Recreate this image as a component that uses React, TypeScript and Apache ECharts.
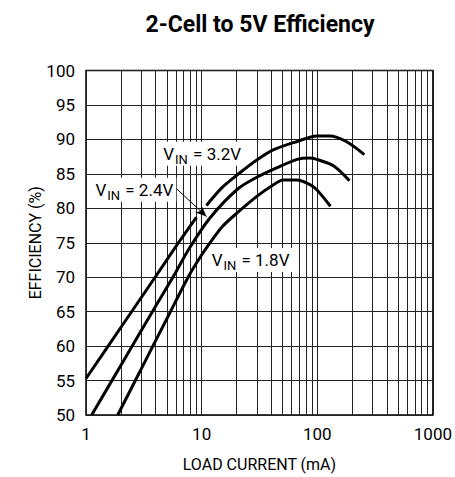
import React, { useEffect, useRef } from 'react';
import * as echarts from 'echarts';

const titleText = '2-Cell to 5V Efficiency';
const xAxisName = 'LOAD CURRENT (mA)';
const yAxisName = 'EFFICIENCY (%)';
const xMinorGrid = [2, 3, 4, 5, 6, 7, 8, 9, 20, 30, 40, 50, 60, 70, 80, 90, 200, 300, 400, 500, 600, 700, 800, 900];

// V_IN = 3.2V (broken where the arrow crosses)
const vin32: (number[] | null)[] = [
  [1, 55.3], [2, 62.7], [4, 70.1], [6.3, 75.0], [9.0, 78.7],
  null,
  [11.0, 80.4], [15, 83.0], [20.5, 84.9], [30, 87.0], [42, 88.5], [67, 89.7], [99, 90.5], [128, 90.5], [178, 89.7], [255, 87.8],
];
// V_IN = 2.4V
const vin24 = [
  [1.12, 50], [2, 57.2], [4, 65.8], [5.74, 70.2], [7.9, 74.3], [11.8, 78.6], [20.5, 82.8], [30, 84.5], [45, 85.9], [67, 87.1], [85, 87.3], [99, 87.1], [137, 86.2], [190, 84.0],
];
// V_IN = 1.8V
const vin18 = [
  [1.88, 50], [2.67, 55.0], [3.58, 59.2], [4.98, 63.9], [7.7, 70.1], [9.8, 73.0], [12.2, 75.3], [15, 77.3], [20.5, 79.4], [30.4, 81.8], [40, 83.2], [51, 84.1], [66.7, 84.1], [85, 83.5], [99, 82.7], [130, 80.3],
];

const labelTexts = ['3.2V', '2.4V', '1.8V'];
const labelCoords = [[10.1, 87.9], [2.62, 82.7], [26.5, 72.5]];
const arrowFrom = [5.93, 83.0];
const arrowTo = [11.03, 78.8];

const FONT = "Roboto, 'Liberation Sans', sans-serif";

export default function App() {
  const ref = useRef<HTMLDivElement>(null);
  useEffect(() => {
    document.body.style.margin = '0';
    const chart = echarts.init(ref.current!, null, { renderer: 'svg' });
    const curve = (data: any) => ({
      type: 'line',
      data,
      symbol: 'none',
      smooth: 0.3,
      connectNulls: false,
      z: 3,
      lineStyle: { color: '#000', width: 3 },
      silent: true,
    });
    chart.setOption({
      animation: false,
      backgroundColor: '#fff',
      textStyle: { fontFamily: FONT },
      title: {
        text: titleText,
        left: 255,
        top: 8,
        textAlign: 'center',
        textStyle: { fontFamily: FONT, fontWeight: 'bold', fontSize: 23, color: '#000' },
      },
      grid: {
        left: 86, right: 17, top: 70.5, bottom: 56,
        show: true, borderColor: '#000', borderWidth: 1.5, backgroundColor: 'transparent',
      },
      xAxis: {
        type: 'log', logBase: 10, min: 1, max: 1000,
        name: xAxisName, nameLocation: 'middle', nameGap: 41, nameMoveOverlap: false,
        nameTextStyle: { fontFamily: FONT, fontSize: 16, color: '#000', verticalAlign: 'top' },
        axisLine: { show: false },
        axisTick: { show: false },
        axisLabel: {
          fontFamily: FONT, fontSize: 17, color: '#000', margin: 10,
          formatter: (v: number) => String(Math.round(v)),
        },
        splitLine: { show: true, lineStyle: { color: '#222', width: 1 } },
        minorTick: { show: false },
      },
      yAxis: {
        type: 'value', min: 50, max: 100, interval: 5,
        name: yAxisName, nameLocation: 'middle', nameGap: 43, nameMoveOverlap: false,
        nameTextStyle: { fontFamily: FONT, fontSize: 16, color: '#000', verticalAlign: 'bottom' },
        axisLine: { show: false },
        axisTick: { show: false },
        axisLabel: { fontFamily: FONT, fontSize: 17, color: '#000', margin: 11 },
        splitLine: { show: true, lineStyle: { color: '#222', width: 1 } },
      },
      series: [
        {
          type: 'line',
          data: [[1, 50]],
          symbol: 'none',
          lineStyle: { width: 0 },
          silent: true,
          z: 1,
          markLine: {
            silent: true,
            z: 1,
            symbol: ['none', 'none'],
            label: { show: false },
            lineStyle: { color: '#222', width: 1, type: 'solid' },
            data: xMinorGrid.map((v) => ({ xAxis: v })),
          },
        },
        {
          ...curve(vin32),
          markLine: {
            silent: true,
            z: 6,
            symbol: ['none', 'arrow'],
            symbolSize: [7, 11],
            label: { show: false },
            lineStyle: { color: '#000', width: 1, type: 'solid' },
            data: [[{ coord: arrowFrom }, { coord: arrowTo }]],
          },
          markPoint: {
            silent: true,
            z: 10,
            symbol: 'rect',
            symbolSize: 1,
            itemStyle: { color: 'rgba(0,0,0,0)' },
            label: {
              show: true,
              position: 'inside',
              backgroundColor: '#fff',
              padding: [1, 3, 0, 3],
              color: '#000',
              rich: {
                v: { fontFamily: FONT, fontSize: 17, color: '#000' },
                s: { fontFamily: FONT, fontSize: 13, color: '#000', padding: [10, 1, 0, 1] },
              },
            },
            data: labelTexts.map((t, i) => ({
              coord: labelCoords[i],
              label: { formatter: `{v|V}{s|IN}{v| = ${t}}` },
            })),
          },
        },
        curve(vin24),
        curve(vin18),
      ],
    });
    return () => chart.dispose();
  }, []);
  return <div ref={ref} style={{ width: 455, height: 477 }} />;
}
